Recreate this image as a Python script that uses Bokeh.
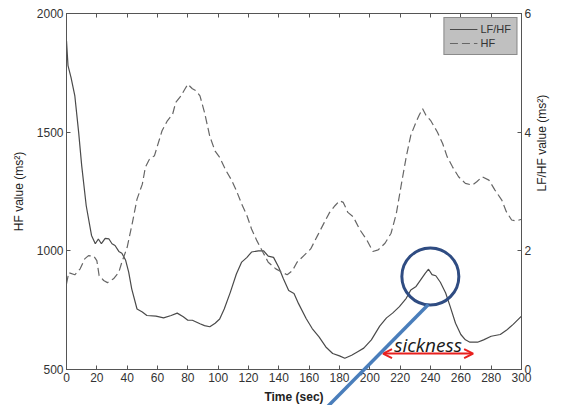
import math
from bokeh.plotting import figure
from bokeh.models import (Range1d, LinearAxis, FixedTicker, Arrow, OpenHead, Label, Legend,
                          LegendItem)
from bokeh.embed import file_html
from bokeh.resources import INLINE

# ---- data ----
time_lfhf = [0, 1, 3, 5.5, 8, 10, 13, 16.5, 19, 21, 23, 25.5, 28, 30, 32, 34.5, 36.5, 39, 41, 43,
             46.5, 50, 53, 59, 64, 69, 73, 77, 80, 83, 88, 91, 94.5, 98, 101, 104, 108, 112, 115.5, 119,
             122, 126.5, 130, 133, 136.5, 140, 143, 146.5, 150, 153, 158, 162, 166.5, 171, 175.5, 180,
             183.5, 188, 192, 196, 201, 206.5, 211, 215, 219.5, 224, 227, 230.5, 233.5, 236.5, 238.7,
             241, 243.5, 246.5, 250, 253, 256.5, 260, 263, 266, 271, 275, 280, 286, 290, 294.5, 300]
lfhf = [5.54, 5.12, 4.92, 4.61, 4.0, 3.44, 2.76, 2.26, 2.12, 2.2, 2.12, 2.21, 2.2, 2.12, 2.09, 1.99,
        1.96, 1.84, 1.64, 1.36, 1.02, 0.97, 0.91, 0.9, 0.87, 0.91, 0.95, 0.89, 0.83, 0.83, 0.77, 0.74,
        0.72, 0.78, 0.85, 1.02, 1.3, 1.61, 1.81, 1.89, 1.98, 2.0, 2.0, 1.91, 1.89, 1.72, 1.53, 1.33,
        1.28, 1.11, 0.86, 0.69, 0.55, 0.38, 0.27, 0.23, 0.19, 0.24, 0.3, 0.36, 0.5, 0.73, 0.87, 0.95,
        1.06, 1.2, 1.34, 1.4, 1.51, 1.62, 1.69, 1.6, 1.58, 1.47, 1.29, 1.06, 0.78, 0.59, 0.5, 0.46,
        0.46, 0.5, 0.56, 0.59, 0.66, 0.76, 0.9]

time_hf = [0, 1.5, 5.5, 9, 12, 14.5, 18, 20, 21.5, 24.5, 27, 31, 34.5, 36.5, 40, 43.5, 46.5, 50, 52,
           54.5, 58, 60, 63, 66.5, 70, 72, 75.5, 78, 80, 83, 85.5, 88, 91, 94.5, 98, 101, 105, 109,
           112, 115.5, 119, 122, 125.5, 129.5, 133, 138, 142, 145.5, 149, 152, 156.5, 161, 165.5,
           170, 173.5, 177, 180, 182.5, 185.5, 189, 193.5, 198, 202, 205.5, 210, 214, 217.5, 220.5,
           224, 227, 230.5, 232.5, 234.8, 237, 240, 244.5, 248, 251, 254.5, 258.5, 263, 267.5,
           270.5, 274, 278.5, 282.5, 287, 290, 293.5, 296.5, 300]
hf = [861, 908, 899, 924, 966, 980, 978, 959, 896, 875, 866, 882, 910, 952, 1015, 1120, 1218, 1281,
      1352, 1384, 1401, 1443, 1506, 1548, 1576, 1625, 1653, 1681, 1702, 1683, 1674, 1653, 1583, 1482,
      1420, 1394, 1340, 1296, 1254, 1197, 1148, 1092, 1043, 994, 952, 924, 910, 899, 917, 952, 980,
      1008, 1064, 1120, 1162, 1190, 1211, 1204, 1162, 1144, 1088, 1046, 997, 1004, 1032, 1074, 1158,
      1270, 1396, 1487, 1543, 1571, 1599, 1571, 1550, 1501, 1452, 1396, 1354, 1312, 1284, 1277, 1291,
      1312, 1298, 1256, 1214, 1165, 1130, 1126, 1133]

x_ticks = list(range(0, 301, 20))
hf_ticks = [500, 1000, 1500, 2000]
lfhf_ticks = [0, 2, 4, 6]

series_labels = ["LF/HF", "HF"]
sickness_text = "sickness"
sickness_span = [208.7, 268.1]  # seconds, red double arrow
sickness_level = 567            # HF scale

circle_center = (239.9, 892)    # HF scale
pointer_x = [238.6, 160.0]
pointer_y = [774, 265]

# ---- figure ----
p = figure(frame_width=455, frame_height=356,
           x_range=Range1d(0, 300), y_range=Range1d(500, 2000),
           output_backend="svg", toolbar_location=None,
           min_border_left=66, min_border_top=13, min_border_right=32, min_border_bottom=30)
p.extra_y_ranges = {"lfhf": Range1d(0, 6)}
p.grid.visible = False
p.outline_line_color = "#555555"
p.background_fill_color = "white"
p.border_fill_color = "white"

right_axis = LinearAxis(y_range_name="lfhf")
p.add_layout(right_axis, "right")
top_axis = LinearAxis()
p.add_layout(top_axis, "above")

FONT = "Liberation Sans"
for ax in p.xaxis + p.yaxis:
    ax.axis_line_color = "#555555"
    ax.major_tick_line_color = "#555555"
    ax.major_tick_in = 4
    ax.major_tick_out = 0
    ax.minor_tick_line_color = None
    ax.major_label_text_font = FONT
    ax.major_label_text_font_size = "12px"
    ax.major_label_text_color = "#333333"
    ax.major_label_standoff = 3
    ax.axis_label_text_font = FONT
    ax.axis_label_text_font_size = "12px"
    ax.axis_label_text_color = "#222222"
    ax.axis_label_text_font_style = "normal"

p.xaxis.ticker = FixedTicker(ticks=x_ticks)
p.below[0].axis_label = "Time (sec)"
p.below[0].axis_label_text_font_style = "bold"
p.below[0].axis_label_standoff = 5
p.left[0].ticker = FixedTicker(ticks=hf_ticks)
p.left[0].axis_label = "HF value (ms²)"
p.left[0].axis_label_standoff = 8
right_axis.ticker = FixedTicker(ticks=lfhf_ticks)
right_axis.axis_label = "LF/HF value (ms²)"
right_axis.axis_label_standoff = 8
right_axis.axis_label_orientation = math.pi / 2
top_axis.major_label_overrides = {t: "" for t in x_ticks}
top_axis.major_label_standoff = 0

# ---- series ----
r_lfhf = p.line(time_lfhf, lfhf, y_range_name="lfhf", line_color="#4a4a4a", line_width=1.2)
r_hf = p.line(time_hf, hf, line_color="#666666", line_width=1.2, line_dash="8 4")

legend = Legend(items=[LegendItem(label=series_labels[0], renderers=[r_lfhf]),
                       LegendItem(label=series_labels[1], renderers=[r_hf])],
                location="top_right")
legend.background_fill_color = "#c0c0c0"
legend.background_fill_alpha = 1
legend.border_line_color = "#555555"
legend.label_text_font = FONT
legend.label_text_font_size = "11px"
legend.label_text_color = "#333333"
legend.glyph_width = 28
legend.glyph_height = 12
legend.label_height = 12
legend.label_standoff = 3
legend.spacing = 2
legend.padding = 5
legend.margin = 4
p.add_layout(legend)

# ---- annotations ----
p.scatter(x=[circle_center[0]], y=[circle_center[1]], marker="circle", size=57,
          fill_color=None, line_color="#2f4c82", line_width=3)
p.line(pointer_x, pointer_y, line_color="#4a7ebb", line_width=3.5, level="overlay")
p.add_layout(Arrow(start=OpenHead(size=9, line_color="#e8201e", line_width=2),
                   end=OpenHead(size=9, line_color="#e8201e", line_width=2),
                   x_start=sickness_span[0], y_start=sickness_level,
                   x_end=sickness_span[1], y_end=sickness_level,
                   line_color="#e8201e", line_width=2))
p.add_layout(Label(x=sum(sickness_span) / 2, y=sickness_level + 35, text=sickness_text,
                   text_align="center", text_baseline="alphabetic",
                   text_font="Open Sans", text_font_style="italic",
                   text_font_size="19px", text_color="#1a1a1a"))

open("out.html", "w").write(file_html(p, INLINE))
